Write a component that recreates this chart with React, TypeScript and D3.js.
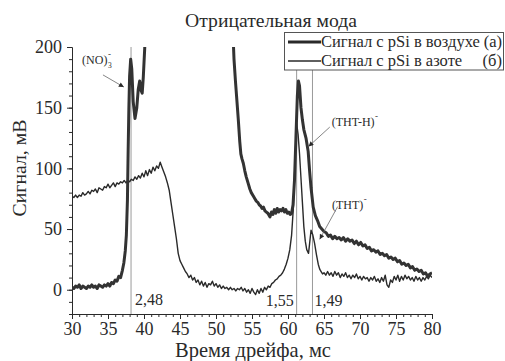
import React, { useEffect, useRef } from 'react';
import * as d3 from 'd3';

// сигнал с pSi в воздухе (а), мс / мВ
const airSignal: [number, number][] = [
  [30.0, 2], [30.25, 1], [30.5, 3], [30.75, 2], [31.0, 4], [31.25, 1], [31.5, 3], [31.75, 2],
  [32.0, 1], [32.25, 3], [32.5, 2], [32.75, 4], [33.0, 2], [33.25, 3], [33.5, 1], [33.75, 4],
  [34.0, 3], [34.25, 2], [34.5, 4], [34.75, 3], [35.0, 5], [35.25, 3], [35.5, 6], [35.75, 5],
  [36.0, 8], [36.25, 7], [36.5, 11], [36.75, 10], [37.0, 16], [37.2, 22], [37.4, 32], [37.55, 45],
  [37.7, 74], [37.8, 115], [37.9, 150], [38.0, 176], [38.15, 190], [38.3, 182], [38.5, 155],
  [38.75, 141], [39.0, 150], [39.2, 165], [39.4, 172], [39.6, 164], [39.75, 162], [39.9, 175],
  [40.1, 199], [40.3, 240], [41.0, 320], [52.0, 320], [52.3, 220], [52.5, 190], [52.7, 172],
  [52.9, 156], [53.1, 140], [53.3, 122], [53.45, 112], [53.6, 108], [53.8, 104], [54.0, 98],
  [54.2, 93], [54.5, 87], [54.7, 83], [54.9, 80], [55.2, 77], [55.4, 75], [55.6, 73], [55.8, 72],
  [56.0, 70], [56.2, 69], [56.4, 67], [56.6, 68], [56.8, 65], [57.0, 64], [57.2, 63], [57.4, 61],
  [57.5, 60], [57.7, 64], [57.9, 62], [58.1, 66], [58.3, 63], [58.5, 67], [58.7, 64], [58.9, 66],
  [59.1, 65], [59.3, 67], [59.5, 64], [59.7, 66], [59.9, 63], [60.1, 64], [60.3, 62], [60.5, 63],
  [60.7, 70], [60.9, 90], [61.1, 125], [61.3, 160], [61.45, 172], [61.6, 168], [61.8, 150],
  [62.0, 140], [62.2, 132], [62.5, 125], [62.8, 114], [63.0, 98], [63.2, 84], [63.5, 68],
  [63.8, 61], [64.1, 57], [64.4, 52], [64.7, 50], [65.0, 48], [65.3, 47], [65.6, 44], [65.9, 45],
  [66.2, 42], [66.5, 44], [66.8, 42], [67.1, 43], [67.4, 41], [67.7, 43], [68.0, 40], [68.3, 42],
  [68.6, 40], [68.9, 41], [69.2, 38], [69.5, 40], [69.8, 37], [70.1, 39], [70.4, 36], [70.7, 37],
  [71.0, 34], [71.3, 35], [71.6, 32], [71.9, 33], [72.2, 31], [72.5, 32], [72.8, 29], [73.1, 30],
  [73.4, 28], [73.7, 29], [74.0, 26], [74.3, 27], [74.6, 25], [74.9, 26], [75.2, 23], [75.5, 24],
  [75.8, 21], [76.1, 22], [76.4, 20], [76.7, 21], [77.0, 18], [77.3, 19], [77.6, 16], [77.9, 17],
  [78.2, 15], [78.5, 16], [78.8, 13], [79.1, 14], [79.4, 11], [79.7, 13], [80.0, 14],
];

// сигнал с pSi в азоте (б)
const nitrogenSignal: [number, number][] = [
  [30.0, 77], [30.25, 76], [30.5, 78], [30.75, 76], [31.0, 78], [31.25, 77], [31.5, 80], [31.75, 78],
  [32.0, 79], [32.25, 81], [32.5, 79], [32.75, 82], [33.0, 81], [33.25, 83], [33.5, 80], [33.75, 84],
  [34.0, 83], [34.25, 82], [34.5, 85], [34.75, 84], [35.0, 87], [35.25, 84], [35.5, 86], [35.75, 88],
  [36.0, 85], [36.25, 88], [36.5, 87], [36.75, 89], [37.0, 88], [37.25, 90], [37.5, 88], [37.75, 90],
  [38.0, 89], [38.25, 91], [38.5, 90], [38.75, 93], [39.0, 91], [39.25, 94], [39.5, 92], [39.75, 96],
  [40.0, 93], [40.25, 98], [40.5, 94], [40.75, 99], [41.0, 96], [41.25, 101], [41.5, 98], [41.75, 102],
  [42.0, 100], [42.25, 105], [42.5, 101], [42.75, 97], [43.0, 93], [43.25, 88], [43.5, 82], [43.75, 72],
  [44.0, 62], [44.25, 52], [44.5, 42], [44.75, 30], [45.0, 24], [45.25, 21], [45.5, 18], [45.75, 15],
  [46.0, 13], [46.25, 10], [46.5, 12], [46.75, 8], [47.0, 10], [47.25, 6], [47.5, 8], [47.75, 4],
  [48.0, 7], [48.25, 3], [48.5, 6], [48.75, 2], [49.0, 5], [49.25, 4], [49.5, 7], [49.75, 3],
  [50.0, 5], [50.25, 2], [50.5, 4], [50.75, 1], [51.0, 3], [51.25, 1], [51.5, 2], [51.75, 0],
  [52.0, 2], [52.25, 0], [52.5, 1], [52.75, -1], [53.0, 1], [53.25, 0], [53.5, 2], [53.75, -1],
  [54.0, 1], [54.25, -2], [54.5, 0], [54.75, -3], [55.0, 1], [55.25, -2], [55.5, -4], [55.75, 0],
  [56.0, -3], [56.25, 1], [56.5, -2], [56.75, 2], [57.0, 0], [57.25, 3], [57.5, 2], [57.75, 5],
  [58.0, 6], [58.25, 8], [58.5, 9], [58.75, 11], [59.0, 12], [59.25, 14], [59.5, 17], [59.75, 21],
  [60.0, 26], [60.25, 33], [60.5, 45], [60.75, 68], [61.0, 110], [61.2, 137], [61.4, 128],
  [61.6, 112], [61.8, 92], [62.0, 72], [62.2, 52], [62.4, 40], [62.6, 33], [62.85, 30], [63.0, 38],
  [63.2, 49], [63.45, 45], [63.7, 38], [63.95, 29], [64.2, 21], [64.4, 17], [64.6, 15], [64.8, 13],
  [65.0, 14], [65.25, 12], [65.5, 15], [65.75, 12], [66.0, 14], [66.25, 11], [66.5, 15], [66.75, 12],
  [67.0, 14], [67.25, 10], [67.5, 13], [67.75, 11], [68.0, 14], [68.25, 10], [68.5, 12], [68.75, 9],
  [69.0, 12], [69.25, 10], [69.5, 13], [69.75, 9], [70.0, 11], [70.25, 8], [70.5, 11], [70.75, 9],
  [71.0, 10], [71.25, 7], [71.5, 10], [71.75, 8], [72.0, 11], [72.25, 7], [72.5, 9], [72.75, 6],
  [73.0, 10], [73.25, 7], [73.5, 12], [73.75, 4], [74.0, 2], [74.25, 8], [74.5, 6], [74.75, 11],
  [75.0, 8], [75.25, 12], [75.5, 7], [75.75, 11], [76.0, 8], [76.25, 12], [76.5, 9], [76.75, 11],
  [77.0, 8], [77.25, 10], [77.5, 7], [77.75, 11], [78.0, 8], [78.25, 10], [78.5, 7], [78.75, 10],
  [79.0, 8], [79.25, 11], [79.5, 9], [79.75, 12], [80.0, 10],
];

const xTickValues = [30, 35, 40, 45, 50, 55, 60, 65, 70, 75, 80];
const yTickValues = [0, 50, 100, 150, 200];
const peakTimes = [38.2, 61.2, 63.4];
const gapLabels = ['2,48', '1,55', '1,49'];
const legendLabels = ['Сигнал с pSi в воздухе', 'Сигнал с pSi в азоте'];
const legendTags = ['(а)', '(б)'];

const W = 505;
const H = 361;
// Liberation Serif has no Cyrillic here, so Cyrillic glyphs fall back to DejaVu Serif
const FONT = "'Liberation Serif', 'DejaVu Serif', serif";
const INK = '#2a2a2a';

type TextSel = d3.Selection<SVGTextElement, unknown, null, undefined>;

// scale font size so the text spans the given width
const fitWidth = (sel: TextSel, target: number) => {
  const w = sel.node()!.getComputedTextLength();
  const fs = +sel.attr('font-size');
  if (w > 0) sel.attr('font-size', (fs * target) / w);
  return +sel.attr('font-size');
};

export default function App() {
  const svgRef = useRef<SVGSVGElement>(null);

  useEffect(() => {
    const svg = d3.select(svgRef.current);
    svg.selectAll('*').remove();

    const x = d3.scaleLinear().domain([30, 80]).range([72, 432]);
    const y = d3.scaleLinear().domain([-20, 200]).range([314, 47]);

    const defs = svg.append('defs');
    defs.append('clipPath').attr('id', 'plot-clip')
      .append('rect')
      .attr('x', x(30)).attr('y', y(200))
      .attr('width', x(80) - x(30)).attr('height', y(-20) - y(200));
    defs.append('marker')
      .attr('id', 'arrow')
      .attr('viewBox', '0 0 10 10')
      .attr('refX', 10).attr('refY', 5)
      .attr('markerUnits', 'userSpaceOnUse')
      .attr('markerWidth', 7).attr('markerHeight', 5)
      .attr('orient', 'auto')
      .append('path').attr('d', 'M0,0L10,5L0,10z').attr('fill', INK);

    const txt = (px: number, py: number, text: string, anchor: string, size: number): TextSel =>
      svg.append('text')
        .attr('x', px).attr('y', py)
        .attr('text-anchor', anchor)
        .style('font-family', FONT).attr('font-size', size).attr('fill', INK)
        .text(text) as unknown as TextSel;

    // title
    fitWidth(txt(271, 27, 'Отрицательная мода', 'middle', 19), 172);

    // vertical markers
    svg.append('g').selectAll('line').data(peakTimes).join('line')
      .attr('x1', d => x(d)).attr('x2', d => x(d))
      .attr('y1', y(-20)).attr('y2', y(200))
      .attr('stroke', '#9a9a9a').attr('stroke-width', 1);

    // axes
    const styleAxis = (g: d3.Selection<SVGGElement, unknown, null, undefined>) => {
      g.attr('font-family', null).attr('font-size', null);
      g.selectAll('path').attr('stroke', INK);
      g.selectAll('line').attr('stroke', INK);
      g.selectAll('text').attr('fill', INK).style('font-family', FONT).attr('font-size', 18);
    };

    const xMinor = svg.append('g').attr('transform', `translate(0,${y(-20)})`)
      .call(d3.axisBottom(x).tickValues(d3.range(30, 81, 1)).tickSize(3).tickSizeOuter(0).tickFormat(() => ''));
    styleAxis(xMinor);
    const xMajor = svg.append('g').attr('transform', `translate(0,${y(-20)})`)
      .call(d3.axisBottom(x).tickValues(xTickValues).tickSize(5).tickSizeOuter(0).tickPadding(3).tickFormat(d3.format('d')));
    styleAxis(xMajor);

    const yMinor = svg.append('g').attr('transform', `translate(${x(30)},0)`)
      .call(d3.axisLeft(y).tickValues(d3.range(-20, 201, 10)).tickSize(3).tickSizeOuter(0).tickFormat(() => ''));
    styleAxis(yMinor);
    const yMajor = svg.append('g').attr('transform', `translate(${x(30)},0)`)
      .call(d3.axisLeft(y).tickValues(yTickValues).tickSize(5).tickSizeOuter(0).tickPadding(5).tickFormat(d3.format('d')));
    styleAxis(yMajor);

    fitWidth(txt(253, 357, 'Время дрейфа, мс', 'middle', 18), 156);
    const yTitle = txt(0, 0, 'Сигнал, мВ', 'middle', 18)
      .attr('transform', 'translate(26,168) rotate(-90)');
    fitWidth(yTitle, 97);

    // data
    const line = d3.line<[number, number]>().x(d => x(d[0])).y(d => y(d[1]));
    const plot = svg.append('g').attr('clip-path', 'url(#plot-clip)');
    plot.append('path').datum(nitrogenSignal)
      .attr('fill', 'none').attr('stroke', INK).attr('stroke-width', 1.4)
      .attr('stroke-linejoin', 'round').attr('d', line);
    plot.append('path').datum(airSignal)
      .attr('fill', 'none').attr('stroke', '#333').attr('stroke-width', 3)
      .attr('stroke-linejoin', 'round').attr('d', line);

    // gap labels
    txt(x(peakTimes[0]) + 4, y(-12.4), gapLabels[0], 'start', 16);
    txt(x(peakTimes[1]) - 3, y(-13.8), gapLabels[1], 'end', 16);
    txt(x(peakTimes[2]) + 2, y(-13.8), gapLabels[2], 'start', 16);

    // ion annotations
    const arrow = (t0: number, v0: number, t1: number, v1: number) =>
      svg.append('line')
        .attr('x1', x(t0)).attr('y1', y(v0))
        .attr('x2', x(t1)).attr('y2', y(v1))
        .attr('stroke', '#666').attr('stroke-width', 0.8)
        .attr('marker-end', 'url(#arrow)');

    const ion = (t: number, v: number, text: string, sub?: string) => {
      const main = txt(x(t), y(v), text, 'start', 12);
      const right = x(t) + main.node()!.getComputedTextLength() + 0.5;
      txt(right, y(v) - 7, '-', 'start', 9);
      if (sub) txt(right, y(v) + 4, sub, 'start', 7.5);
    };

    ion(31.4, 186, '(NO)', '3');
    arrow(34.3, 177, 37.2, 167);

    ion(66.07, 134.7, '(THT-H)');
    arrow(65.8, 134, 62.85, 118);

    ion(66.1, 66.3, '(THT)');
    arrow(66.9, 68.5, 64.4, 41.5);

    // legend
    const legend = svg.append('g');
    legend.append('rect')
      .attr('x', 284.5).attr('y', 32.5).attr('width', 219).attr('height', 37.5)
      .attr('fill', '#fff').attr('stroke', '#555').attr('stroke-width', 1);
    let legendSize = 16;
    [0, 1].forEach(i => {
      const cy = 42 + i * 19;
      legend.append('line')
        .attr('x1', 288).attr('x2', 321).attr('y1', cy).attr('y2', cy)
        .attr('stroke', INK).attr('stroke-width', i === 0 ? 3 : 1.4);
      const label = legend.append('text')
        .attr('x', 321).attr('y', cy + 5)
        .style('font-family', FONT).attr('font-size', legendSize).attr('fill', INK)
        .text(legendLabels[i]) as unknown as TextSel;
      if (i === 0) legendSize = fitWidth(label, 159);
      legend.append('text')
        .attr('x', 502).attr('y', cy + 5)
        .attr('text-anchor', 'end')
        .style('font-family', FONT).attr('font-size', legendSize).attr('fill', INK)
        .text(legendTags[i]);
    });
  }, []);

  return (
    <div style={{ position: 'absolute', left: 0, top: 0, background: '#fff' }}>
      <svg ref={svgRef} width={W} height={H} />
    </div>
  );
}
